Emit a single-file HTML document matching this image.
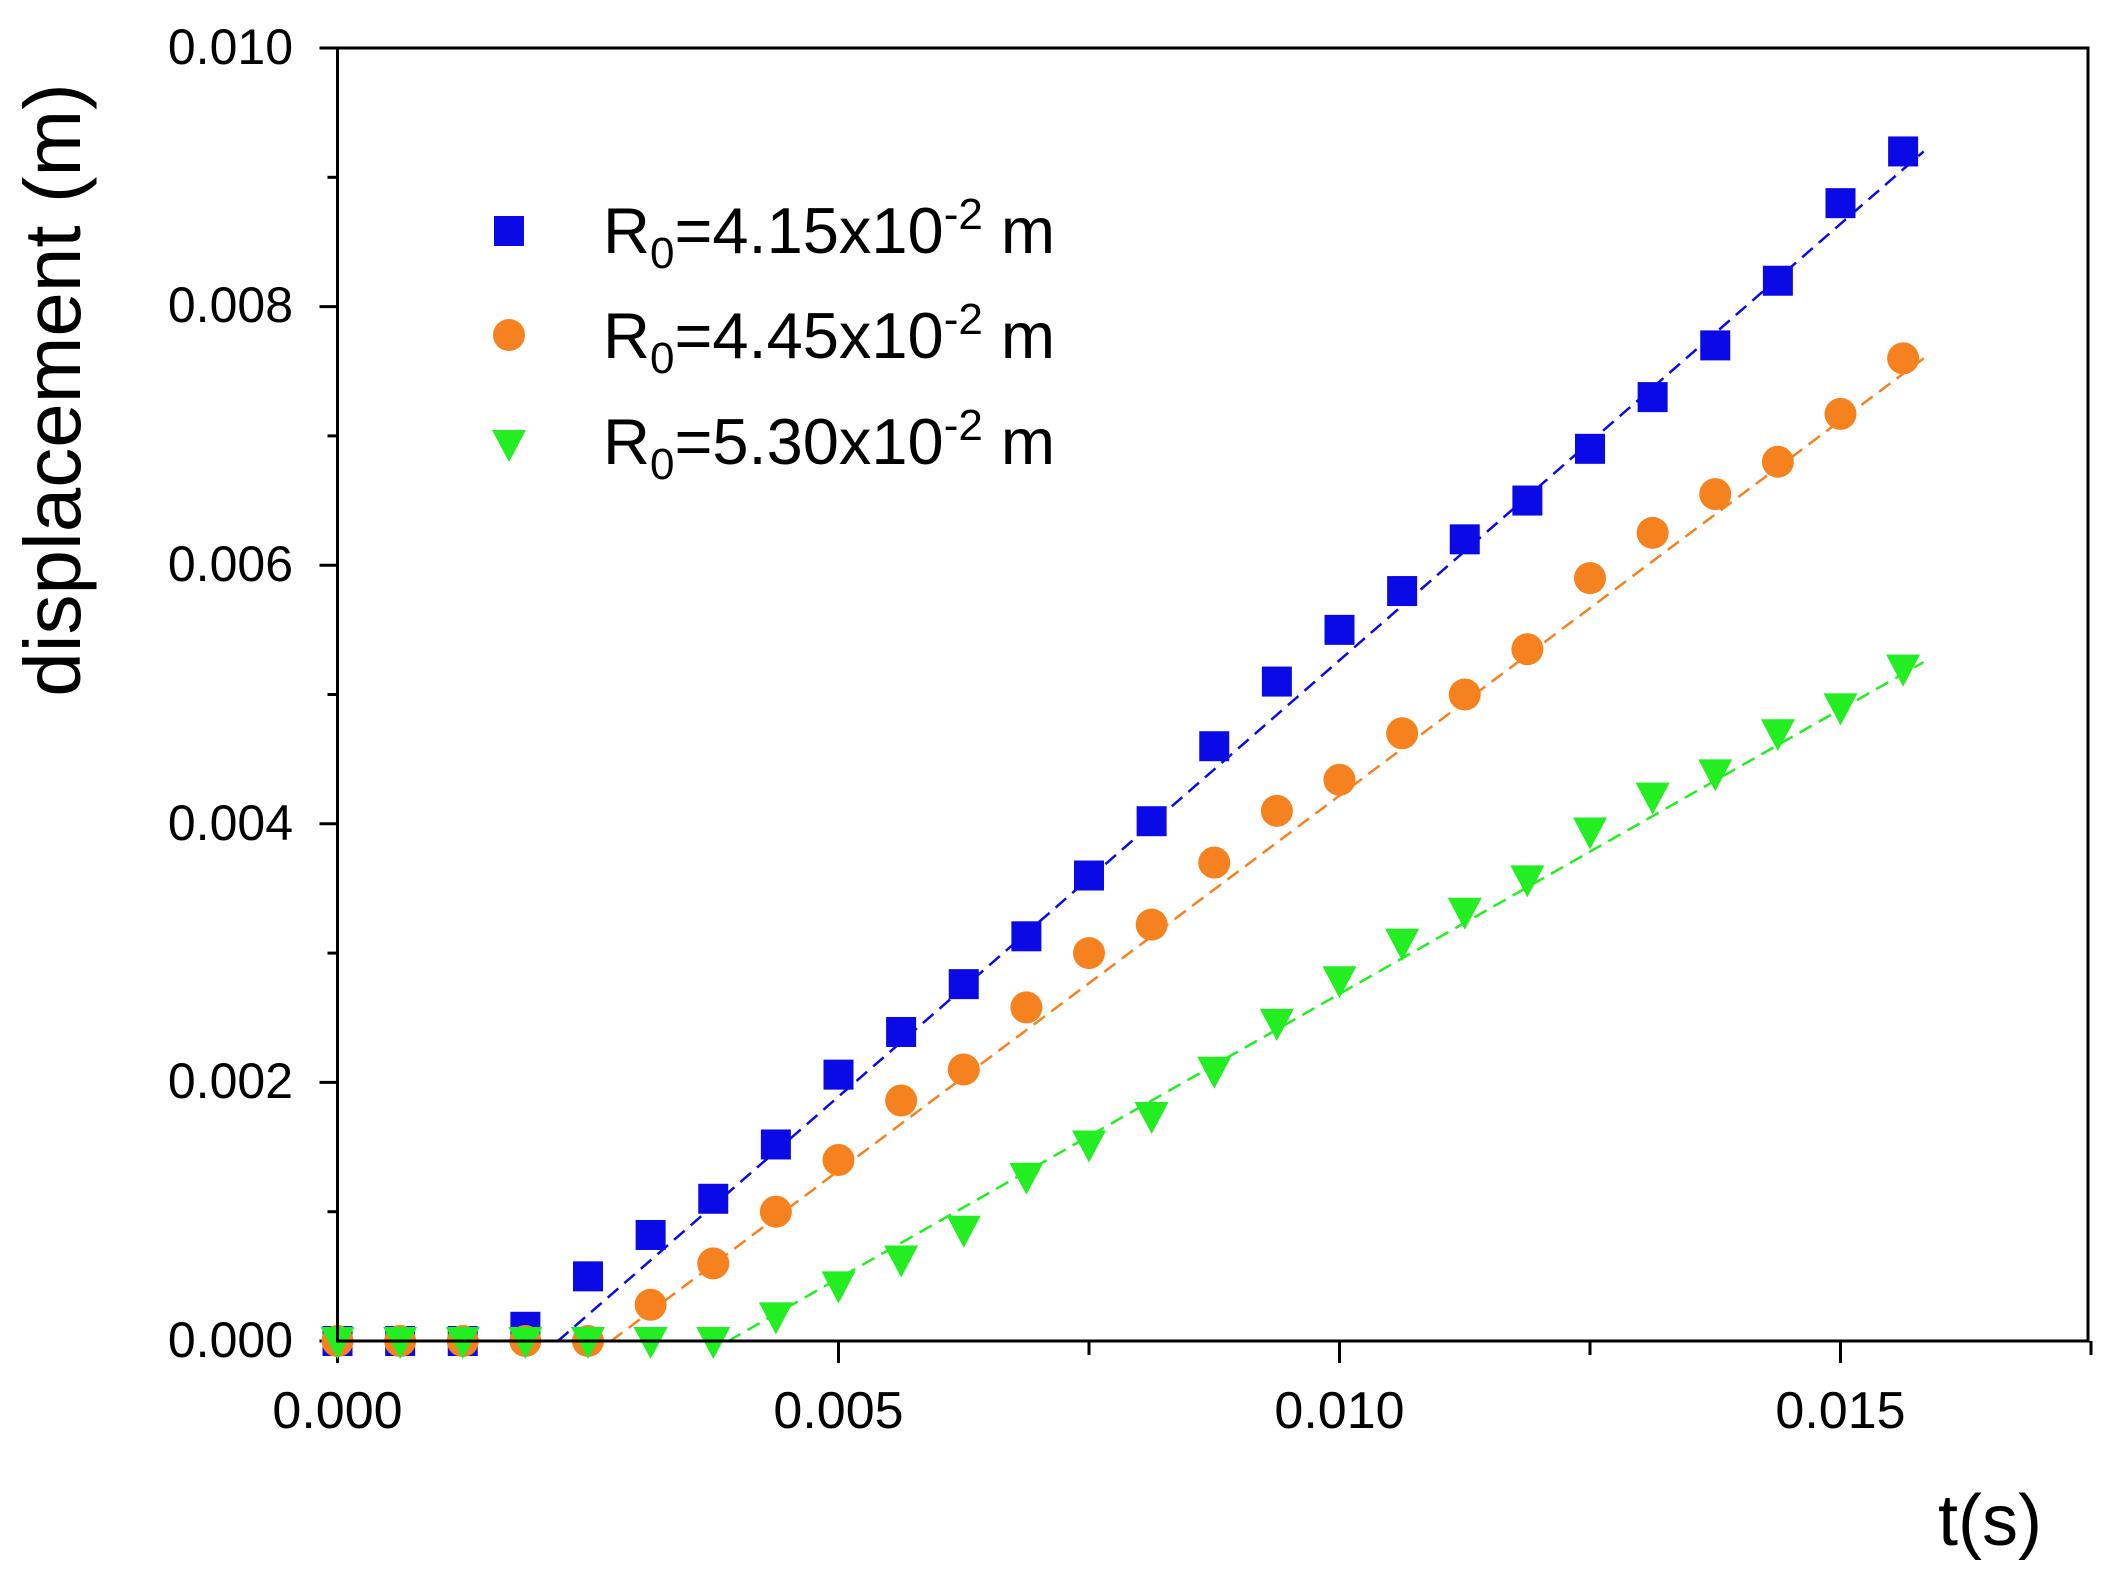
<!DOCTYPE html>
<html><head><meta charset="utf-8"><style>
html,body{margin:0;padding:0;background:#fff;}
svg{display:block;font-family:"Liberation Sans",Arial,sans-serif;}
</style></head><body>
<svg id="s" width="2117" height="1579" viewBox="0 0 2117 1579" xmlns="http://www.w3.org/2000/svg">
<rect width="2117" height="1579" fill="#fff"/>
<g id="plot"></g>
<rect x="337.5" y="48" width="1750.5" height="1293" fill="none" stroke="#000" stroke-width="3"/>
<g font-size="50" text-anchor="end" fill="#000">
<text x="293" y="64">0.010</text>
<text x="293" y="322">0.008</text>
<text x="293" y="581">0.006</text>
<text x="293" y="840">0.004</text>
<text x="293" y="1098">0.002</text>
<text x="293" y="1357">0.000</text>
</g>
<g font-size="52" text-anchor="middle" fill="#000">
<text x="337.5" y="1428">0.000</text>
<text x="838.5" y="1428">0.005</text>
<text x="1339.5" y="1428">0.010</text>
<text x="1840.5" y="1428">0.015</text>
</g>
<text x="1990" y="1545" font-size="72" text-anchor="middle">t(s)</text>
<text transform="translate(80,390) rotate(-90)" font-size="80" text-anchor="middle">displacement (m)</text>
<g font-size="65" fill="#000">
<rect x="494" y="216" width="30" height="30" fill="#0a0ae6"/>
<text x="603" y="253">R<tspan font-size="44" dy="15">0</tspan><tspan dy="-15">=4.15x10</tspan><tspan font-size="44" dy="-24">-2</tspan><tspan dy="24"> m</tspan></text>
<ellipse cx="509" cy="335" rx="16" ry="16" fill="#f5821f"/>
<text x="603" y="358">R<tspan font-size="44" dy="15">0</tspan><tspan dy="-15">=4.45x10</tspan><tspan font-size="44" dy="-24">-2</tspan><tspan dy="24"> m</tspan></text>
<polygon points="492,430 526,430 509,462" fill="#22ee22"/>
<text x="603" y="464">R<tspan font-size="44" dy="15">0</tspan><tspan dy="-15">=5.30x10</tspan><tspan font-size="44" dy="-24">-2</tspan><tspan dy="24"> m</tspan></text>
</g>
</svg>
<script>
(function(){
var NS="http://www.w3.org/2000/svg",g=document.getElementById("plot");
function X(t){return 337.5+t*100200;}function Y(v){return 1341-v*129300;}
function el(n,a){var e=document.createElementNS(NS,n);for(var k in a)e.setAttribute(k,a[k]);g.appendChild(e);return e;}
for(var i=0;i<=10;i++){var y=Y(i*0.001);el("line",{x1:337.5-(i%2==0?18:10),y1:y,x2:337.5,y2:y,stroke:"#000","stroke-width":3});}
for(var j=0;j<=7;j++){var x=X(j*0.0025);el("line",{x1:x,y1:1341,x2:x,y2:1341+(j%2==0?22:14),stroke:"#000","stroke-width":3});}
var B=[0,0,0,0.00011,0.0005,0.00082,0.0011,0.00152,0.00206,0.00239,0.00276,0.00313,0.0036,0.00402,0.0046,0.0051,0.0055,0.0058,0.0062,0.0065,0.0069,0.0073,0.0077,0.0082,0.0088,0.0092];
var O=[0,0,0,0,0,0.00028,0.0006,0.001,0.0014,0.00186,0.0021,0.00258,0.003,0.00322,0.0037,0.0041,0.00434,0.0047,0.005,0.00535,0.0059,0.00625,0.00655,0.0068,0.00717,0.0076];
var G=[0,0,0,0,0,0,0,0.00019,0.00043,0.00063,0.00086,0.00127,0.00152,0.00174,0.00209,0.00246,0.00279,0.00308,0.00332,0.00357,0.00394,0.00421,0.00439,0.0047,0.0049,0.0052];
var cb="#0a0ae6",co="#f5821f",cg="#22ee22";
el("line",{x1:X(0.0022),y1:Y(0),x2:X(0.01583),y2:Y(0.0092),stroke:cb,"stroke-width":2.5,"stroke-dasharray":"14 8"});
el("line",{x1:X(0.00273),y1:Y(0),x2:X(0.01583),y2:Y(0.0076),stroke:co,"stroke-width":2.5,"stroke-dasharray":"14 8"});
el("line",{x1:X(0.0039),y1:Y(0),x2:X(0.01583),y2:Y(0.00525),stroke:cg,"stroke-width":2.5,"stroke-dasharray":"14 8"});
el("line",{x1:337.5,y1:1341,x2:X(0.0039),y2:1341,stroke:"#000","stroke-width":3});
for(var k=0;k<26;k++){var x=X(k*0.000625);
 el("rect",{x:x-15,y:Y(B[k])-15,width:30,height:30,fill:cb});
 el("ellipse",{cx:x,cy:Y(O[k]),rx:16,ry:16,fill:co});
 var y=Y(G[k]);el("polygon",{points:(x-17)+","+(y-14)+" "+(x+17)+","+(y-14)+" "+x+","+(y+18),fill:cg});
}
})();
</script>
</body></html>
